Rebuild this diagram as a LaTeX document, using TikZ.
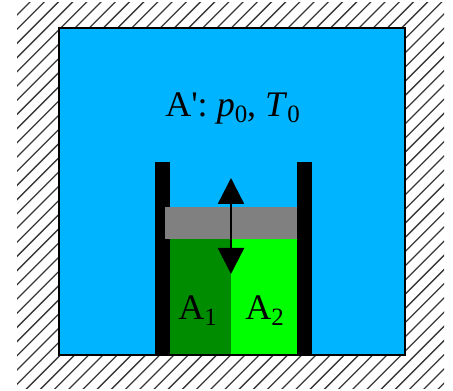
\documentclass[tikz,border=0pt]{standalone}
\usepackage{fontspec}
\setmainfont{Liberation Serif}
\usetikzlibrary{arrows.meta}
\definecolor{envblue}{HTML}{00B4FF}
\definecolor{gasdark}{HTML}{008C00}
\definecolor{gaslight}{HTML}{00FF00}
\definecolor{pistongray}{HTML}{808080}
\newcommand{\lowsub}[1]{\raisebox{-4.2pt}{\fontsize{18.7}{18.7}\selectfont #1}}
\tikzset{
  hatchline/.style={line width=1pt,draw=black!78},
  label/.style={inner sep=0pt,anchor=base west,font=\fontsize{27}{27}\selectfont},
  wall/.style={fill=black,draw=none},
  motion/.style={line width=1.8pt,{Triangle[length=19.5pt,width=19.5pt]}-{Triangle[length=19.5pt,width=19.5pt]}}
}
\begin{document}
\begin{tikzpicture}[x=0.75pt,y=-0.75pt]
\useasboundingbox (0,0) rectangle (453,391);
\begin{scope}
\clip (17,3) rectangle (444,388);
\foreach \k in {0,...,60}{
  \pgfmathsetmacro{\s}{32+14.2*\k-28.4}
  \draw[hatchline] (\s,0) -- (\s-400,400);
}
\end{scope}
\filldraw[fill=envblue,draw=black,line width=1.5pt] (59,28) rectangle (405,355);
\fill[gasdark] (170,239) rectangle (231,355);
\fill[gaslight] (231,239) rectangle (297,355);
\fill[wall] (155,162) rectangle (170,355);
\fill[wall] (297,162) rectangle (312,355);
\fill[pistongray] (165,207) rectangle (297,239);
\draw[line width=1pt] (59,355) -- (405,355);
\coordinate (up) at (231,178);
\coordinate (down) at (231,274);
\draw[motion] (up) -- (down);
\node[label] (env) at (165,116.5) {A\textquotesingle: \textit{p}\lowsub{0}, \textit{T}\lowsub{0}};
\node[label] (a1) at (178,320) {A\lowsub{1}};
\node[label] (a2) at (245,320) {A\lowsub{2}};
\end{tikzpicture}
\end{document}
